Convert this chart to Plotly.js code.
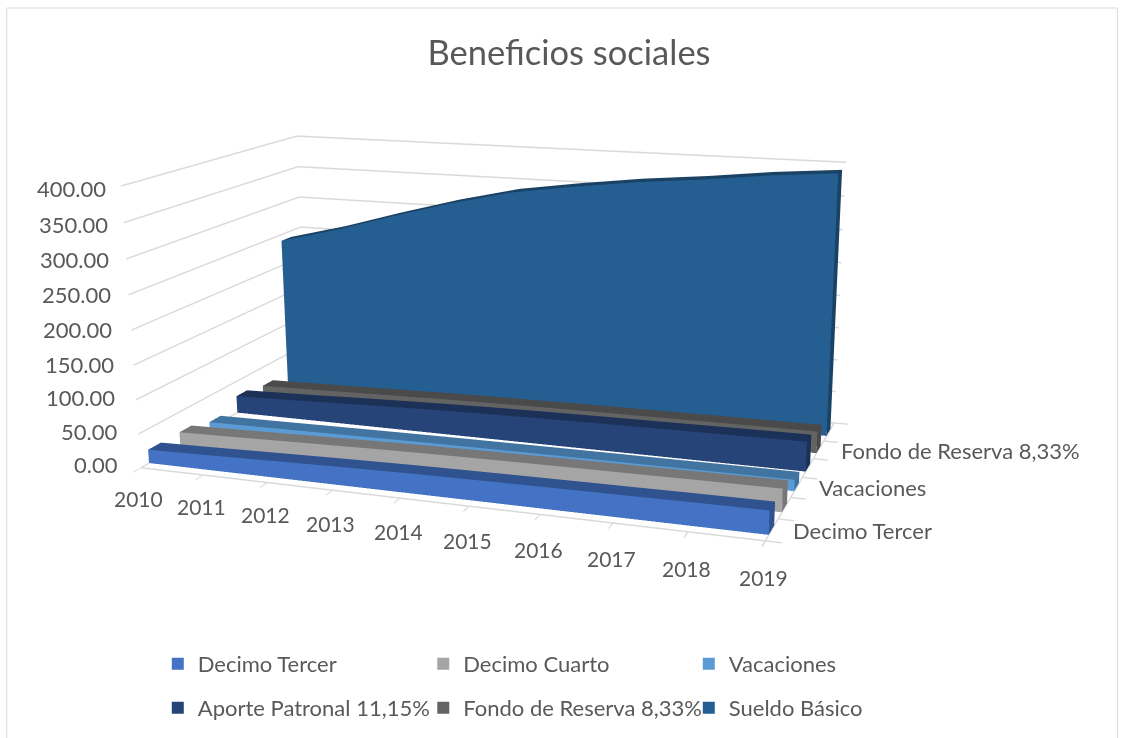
<!DOCTYPE html>
<html><head><meta charset="utf-8">
<script src="https://cdn.plot.ly/plotly-3.0.1.min.js"></script>
<style>html,body{margin:0;padding:0;background:#fff;overflow:hidden;width:1123px;height:738px}#w{position:relative;width:1123px;height:738px;overflow:hidden}#c{position:absolute;left:0;top:-331px}</style></head>
<body><div id="w"><div id="c"></div></div>
<script>
const years=['2010','2011','2012','2013','2014','2015','2016','2017','2018','2019'];
const seriesNames=['Decimo Tercer','Decimo Cuarto','Vacaciones','Aporte Patronal 11,15%','Fondo de Reserva 8,33%','Sueldo Básico'];
const decimoTercer=[20,22,24.3,26.5,28.3,29.5,30.5,31.3,32.2,32.8];
const decimoCuarto=[20,22,24.3,26.5,28.3,29.5,30.5,31.3,32.2,32.8];
const vacaciones=[10,11,12.2,13.3,14.2,14.8,15.3,15.6,16.1,16.4];
const aportePatronal=[26.8,29.4,32.6,35.5,37.9,39.5,40.8,41.8,43,43.9];
const fondoReserva=[20,22,24.3,26.5,28.3,29.5,30.5,31.3,32.2,32.8];
const sueldoBasico=[240,264,292,318,340,354,366,375,386,394];
const allValues=[decimoTercer,decimoCuarto,vacaciones,aportePatronal,fondoReserva,sueldoBasico];
const colors=['#4472c4','#a5a5a5','#5b9bd5','#264478','#636363','#255e91'];
const topColors=['#30528f','#777777','#4174a0','#1c3157','#4a4a4a','#1a4265'];
const zTicks=[0,50,100,150,200,250,300,350,400];
const zLabels=['0.00','50.00','100.00','150.00','200.00','250.00','300.00','350.00','400.00'];
const depthLabels=[[0,'Decimo Tercer'],[2,'Vacaciones'],[4,'Fondo de Reserva 8,33%']];
const yRange=[-0.45,5.6];

// The graph is taller than the window so the scene's fixed field of view gives the reference's weak perspective.
const GRAPH_HEIGHT=1400,GRAPH_TOP=-331;
const py=y=>1-(y-GRAPH_TOP)/GRAPH_HEIGHT;

const traces=allValues.map((v,s)=>{
  const d=0.2;
  const x=[],y=[],z=[],I=[],J=[],K=[],fc=[];
  v.forEach((val,i)=>{ [[s-d,0],[s-d,val],[s+d,val],[s+d,0]].forEach(p=>{x.push(i);y.push(p[0]);z.push(p[1]);}); });
  const quad=(a,b,c,e,col)=>{I.push(a,a);J.push(b,c);K.push(c,e);fc.push(col,col);};
  for(let i=0;i<v.length-1;i++){const a=i*4,b=(i+1)*4;
    quad(a,a+1,b+1,b,colors[s]);quad(a+1,a+2,b+2,b+1,topColors[s]);quad(a+2,a+3,b+3,b+2,topColors[s]);}
  const e=(v.length-1)*4;
  quad(0,1,2,3,topColors[s]);quad(e,e+1,e+2,e+3,topColors[s]);
  return {type:'mesh3d',x,y,z,i:I,j:J,k:K,facecolor:fc,name:seriesNames[s],showlegend:false,flatshading:true,
    lighting:{ambient:1,diffuse:0,specular:0,roughness:1,fresnel:0},hoverinfo:'skip'};
});
colors.forEach((c,s)=>traces.push({type:'scatter',mode:'markers',x:[null],y:[null],name:seriesNames[s],legend:s<3?'legend':'legend2',
  marker:{symbol:'square',size:12,color:c},hoverinfo:'skip',xaxis:'x',yaxis:'y'}));
const FONT='Lato, sans-serif',GREY='#595959';
const axisBase={showbackground:false,showspikes:false,showgrid:false,linecolor:'#d9d9d9',linewidth:3,zeroline:false,showticklabels:false,
  ticks:'outside',ticklen:12,tickwidth:3,tickcolor:'#d9d9d9',title:{text:''}};
const anns=[];
years.forEach((t,i)=>anns.push({x:i,y:yRange[0],z:0,text:t,showarrow:false,xanchor:'center',yanchor:'middle',xshift:-2,yshift:-31-i*6/9,font:{family:FONT,size:21,color:GREY}}));
zTicks.forEach((t,i)=>anns.push({x:0,y:yRange[0],z:t,text:zLabels[i],showarrow:false,xanchor:'right',yanchor:'middle',xshift:-21+t/50,yshift:3-t/80,font:{family:FONT,size:22,color:GREY}}));
depthLabels.forEach(l=>anns.push({x:9,y:l[0],z:0,text:l[1],showarrow:false,xanchor:'left',yanchor:'middle',xshift:20,yshift:-0.5,font:{family:FONT,size:22,color:GREY}}));
const legendBase={orientation:'h',xanchor:'left',yanchor:'middle',entrywidth:220.5,entrywidthmode:'pixels',font:{family:FONT,size:22,color:GREY},bgcolor:'rgba(0,0,0,0)',traceorder:'normal'};
const shapes=[{type:'rect',xref:'paper',yref:'paper',x0:0.006,x1:0.995,y0:py(800),y1:py(8),line:{color:'#d9d9d9',width:1},fillcolor:'rgba(0,0,0,0)'}];
const layout={width:1123,height:GRAPH_HEIGHT,margin:{l:0,r:0,t:0,b:0},paper_bgcolor:'#fff',plot_bgcolor:'rgba(0,0,0,0)',
  title:{text:'Beneficios sociales',x:0.5067,xanchor:'center',y:py(53),yanchor:'middle',font:{family:FONT,size:34.5,color:GREY}},
  xaxis:{visible:false,domain:[0,0.01]},yaxis:{visible:false,domain:[0,0.01]},
  legend:Object.assign({},legendBase,{x:0.1405,y:py(664)}),
  legend2:Object.assign({},legendBase,{x:0.1405,y:py(708)}),
  shapes,dragmode:false,
  scene:{domain:{x:[0,1],y:[0,1]},aspectmode:'manual',aspectratio:{x:2.2303,y:1.2917,z:1},annotations:anns,
    camera:{eye:{x:2.0613,y:-5.5329,z:1.4395},center:{x:0.1505,y:0.2440,z:-0.2641},up:{x:-0.0048,y:0,z:1},projection:{type:'perspective'}},
    xaxis:Object.assign({},axisBase,{tickmode:'array',tickvals:years.map((_,i)=>i),range:[0,9]}),
    yaxis:Object.assign({},axisBase,{tickmode:'array',tickvals:[-0.45,0.5,1.5,2.5,3.5,4.5,5.6],range:yRange}),
    zaxis:Object.assign({},axisBase,{showgrid:true,gridcolor:'#d9d9d9',gridwidth:3,showline:false,ticks:'',tickmode:'array',tickvals:zTicks,range:[0,400]})}
};
Plotly.newPlot('c',traces,layout,{displayModeBar:false});
</script></body></html>
